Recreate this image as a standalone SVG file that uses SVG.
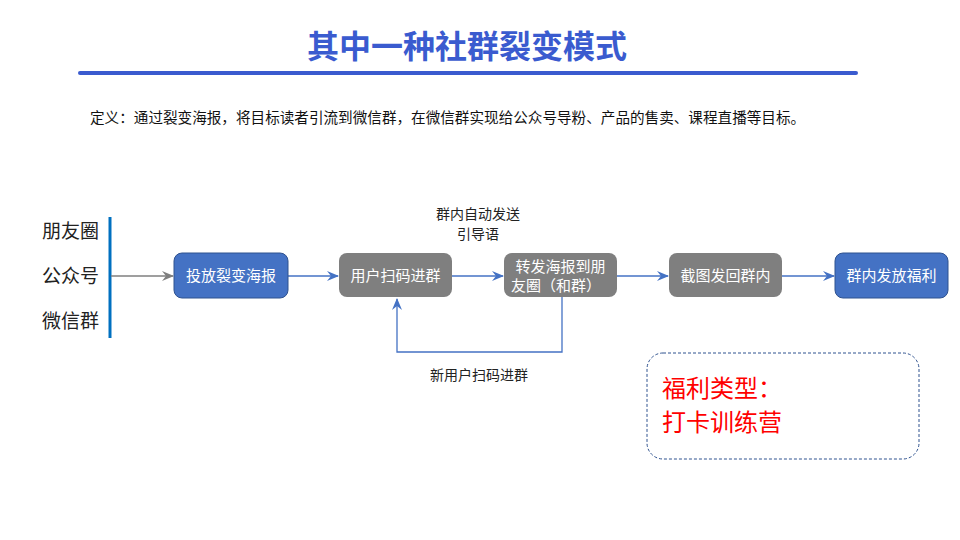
<svg xmlns="http://www.w3.org/2000/svg" width="960" height="540" viewBox="0 0 960 540">
<style>
text{font-family:"Noto Sans CJK SC","Liberation Sans",sans-serif}
.bt{fill:#fff;font-size:15px;text-anchor:middle}
.lbl{fill:#222;font-size:14px;text-anchor:middle}
.side{fill:#222;font-size:19px}
.blue{fill:#4472C4;stroke:#2F528F;stroke-width:1}
.grey{fill:#7F7F7F}
.ln{fill:none;stroke:#4472C4;stroke-width:1.3}
</style>
<defs>
<marker id="ab" viewBox="0 0 12 10" refX="11" refY="5" markerWidth="12" markerHeight="10" markerUnits="userSpaceOnUse" orient="auto">
<path d="M0,0 L12,5 L0,10 L4,5 Z" fill="#4472C4"/>
</marker>
<marker id="ag" viewBox="0 0 12 10" refX="11" refY="5" markerWidth="12" markerHeight="10" markerUnits="userSpaceOnUse" orient="auto">
<path d="M0,0 L12,5 L0,10 L4,5 Z" fill="#7F7F7F"/>
</marker>
</defs>
<rect width="960" height="540" fill="#fff"/>
<g id="title">
<text x="467" y="58" font-size="32" font-weight="bold" fill="#3A5BCF" text-anchor="middle">其中一种社群裂变模式</text>
<line x1="80" y1="73" x2="856" y2="73" stroke="#3A5BCF" stroke-width="4" stroke-linecap="round"/>
</g>
<text x="90" y="123" font-size="14.6" fill="#111">定义：通过裂变海报，将目标读者引流到微信群，在微信群实现给公众号导粉、产品的售卖、课程直播等目标。</text>
<g id="sources">
<text class="side" x="42" y="238">朋友圈</text>
<text class="side" x="42" y="283">公众号</text>
<text class="side" x="42" y="328">微信群</text>
<line x1="110" y1="217" x2="110" y2="338" stroke="#0070C0" stroke-width="3"/>
</g>
<g id="connectors">
<line x1="111" y1="276" x2="173" y2="276" stroke="#7F7F7F" stroke-width="1.3" marker-end="url(#ag)"/>
<line class="ln" x1="288" y1="276" x2="338" y2="276" marker-end="url(#ab)"/>
<line class="ln" x1="452" y1="276" x2="503" y2="276" marker-end="url(#ab)"/>
<line class="ln" x1="617" y1="276" x2="668" y2="276" marker-end="url(#ab)"/>
<line class="ln" x1="782" y1="276" x2="834" y2="276" marker-end="url(#ab)"/>
<polyline class="ln" points="562,297 562,352 397,352 397,299" marker-end="url(#ab)"/>
<text class="lbl" x="478" y="219">群内自动发送</text>
<text class="lbl" x="478" y="239">引导语</text>
<text class="lbl" x="479" y="380">新用户扫码进群</text>
</g>
<g id="n1"><rect class="blue" x="174" y="253" width="114" height="45" rx="8"/><text class="bt" x="231" y="281">投放裂变海报</text></g>
<g id="n2"><rect class="grey" x="339" y="253" width="113" height="44" rx="8"/><text class="bt" x="395.5" y="281">用户扫码进群</text></g>
<g id="n3"><rect class="grey" x="504" y="253" width="113" height="44" rx="8"/><text class="bt" x="560.5" y="272">转发海报到朋</text><text class="bt" x="556" y="291">友圈（和群）</text></g>
<g id="n4"><rect class="grey" x="669" y="253" width="113" height="44" rx="8"/><text class="bt" x="725.5" y="281">截图发回群内</text></g>
<g id="n5"><rect class="blue" x="835" y="253" width="113" height="45" rx="8"/><text class="bt" x="891.5" y="281">群内发放福利</text></g>
<g id="note">
<rect x="647" y="353" width="272" height="106" rx="16" fill="none" stroke="#2F528F" stroke-width="1" stroke-dasharray="3,2"/>
<text x="662" y="397" font-size="24" fill="#FF0000">福利类型：</text>
<text x="662" y="431" font-size="24" fill="#FF0000">打卡训练营</text>
</g>
</svg>
